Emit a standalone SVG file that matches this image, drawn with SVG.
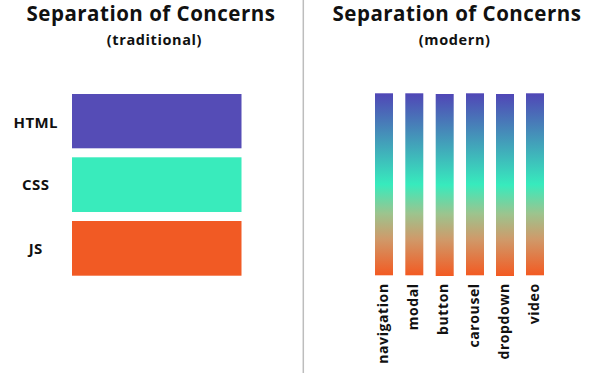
<svg xmlns="http://www.w3.org/2000/svg" width="600" height="373" viewBox="0 0 600 373">
<style>
text{font-family:"Open Sans","Liberation Sans",sans-serif;font-weight:bold;fill:#111;}
.title{font-size:20.5px;letter-spacing:0.5px;text-anchor:middle;}
.sub{font-size:14.5px;letter-spacing:0.6px;text-anchor:middle;}
.lbl{font-size:15px;letter-spacing:0.4px;text-anchor:middle;}
.bl{font-size:14px;letter-spacing:0.6px;text-anchor:end;}
.bar{fill:url(#g);}
</style>
<defs>
<linearGradient id="g" x1="0" y1="0" x2="0" y2="1">
<stop offset="0" stop-color="#5046b6"/>
<stop offset="0.5" stop-color="#37ebbd"/>
<stop offset="0.66" stop-color="#9cc48e"/>
<stop offset="0.8" stop-color="#cf9a6a"/>
<stop offset="1" stop-color="#f35a22"/>
</linearGradient>
</defs>
<rect width="600" height="373" fill="#fff"/>
<line x1="303.3" y1="0" x2="303.3" y2="373" stroke="#bdbdbd" stroke-width="1.5"/>
<text class="title" x="151" y="21">Separation of Concerns</text>
<text class="sub" x="154.5" y="44.5">(traditional)</text>
<text class="title" x="457" y="21">Separation of Concerns</text>
<text class="sub" x="454.7" y="44.5">(modern)</text>
<g id="html"><rect x="72" y="94" width="169.5" height="54.3" fill="#554cb6"/><text class="lbl" x="35.7" y="127.5">HTML</text></g>
<g id="css"><rect x="72" y="157.3" width="169.5" height="54.7" fill="#39ebbc"/><text class="lbl" x="35.7" y="190.3">CSS</text></g>
<g id="js"><rect x="72" y="221" width="169.5" height="54.7" fill="#f15a24"/><text class="lbl" x="35.7" y="253.5">JS</text></g>
<g id="navigation"><rect class="bar" x="375" y="93.3" width="18" height="182"/><text class="bl" transform="translate(388,283.3) rotate(-90)">navigation</text></g>
<g id="modal"><rect class="bar" x="405.3" y="93.3" width="18" height="182"/><text class="bl" transform="translate(417.8,283.3) rotate(-90)">modal</text></g>
<g id="button"><rect class="bar" x="435.7" y="94" width="18" height="182"/><text class="bl" transform="translate(448.2,283.3) rotate(-90)">button</text></g>
<g id="carousel"><rect class="bar" x="466" y="93.3" width="18" height="182"/><text class="bl" transform="translate(478.5,283.3) rotate(-90)">carousel</text></g>
<g id="dropdown"><rect class="bar" x="496" y="94" width="18" height="182"/><text class="bl" transform="translate(508.5,283.3) rotate(-90)">dropdown</text></g>
<g id="video"><rect class="bar" x="526" y="93.3" width="18" height="182"/><text class="bl" transform="translate(538.5,283.3) rotate(-90)">video</text></g>
</svg>
